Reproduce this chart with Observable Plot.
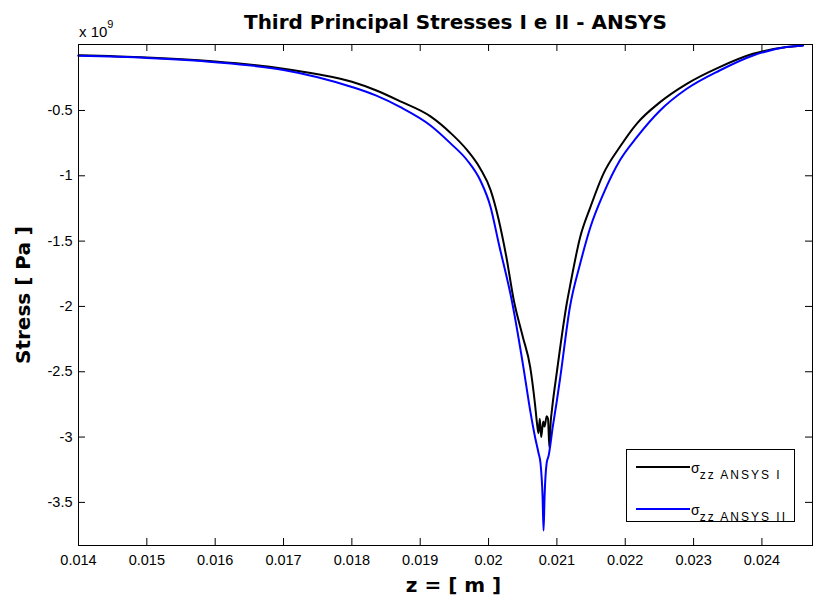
<!DOCTYPE html>
<html><head><meta charset="utf-8">
<script src="https://cdn.jsdelivr.net/npm/d3@7"></script>
<script src="https://cdn.jsdelivr.net/npm/@observablehq/plot@0.6"></script>
<style>
html,body{margin:0;padding:0;background:#fff;}
#chart svg{display:block;}
</style></head><body><div id="chart"></div>
<script>
// Values in units of 1e9 Pa (axis multiplier "x 10^9")
const zI = [0.0140, 0.0150, 0.0160, 0.0170, 0.0175, 0.0180, 0.01835, 0.01871, 0.01915, 0.01944, 0.01969, 0.01988, 0.02003, 0.02015, 0.02026, 0.02037, 0.02050, 0.02061, 0.02068, 0.02071, 0.02073, 0.02075, 0.02077, 0.02080, 0.02082, 0.02085, 0.02087, 0.02089, 0.02091, 0.02093, 0.02100, 0.02115, 0.02119, 0.02134, 0.02149, 0.02168, 0.02192, 0.02217, 0.02251, 0.02290, 0.02338, 0.02387, 0.02436, 0.02460];
const sI = [-0.078, -0.095, -0.125, -0.18, -0.222, -0.28, -0.345, -0.43, -0.545, -0.67, -0.806, -0.946, -1.11, -1.34, -1.62, -1.955, -2.23, -2.466, -2.75, -2.90, -2.97, -2.86, -3.00, -2.88, -2.92, -2.84, -2.86, -3.08, -2.88, -2.78, -2.50, -1.96, -1.85, -1.47, -1.24, -0.985, -0.78, -0.60, -0.436, -0.296, -0.168, -0.066, -0.015, -0.002];
const zII = [0.0140, 0.0150, 0.0160, 0.0170, 0.0175, 0.0180, 0.01835, 0.01871, 0.01915, 0.01944, 0.01969, 0.01988, 0.02003, 0.02015, 0.02034, 0.02051, 0.02061, 0.02068, 0.02073, 0.02076, 0.02079, 0.020805, 0.02082, 0.02085, 0.02088, 0.02094, 0.02100, 0.02105, 0.02119, 0.02134, 0.02149, 0.02168, 0.02192, 0.02217, 0.02251, 0.02290, 0.02338, 0.02387, 0.02436, 0.02460];
const sII = [-0.082, -0.098, -0.13, -0.19, -0.245, -0.32, -0.385, -0.475, -0.615, -0.75, -0.883, -1.036, -1.24, -1.52, -1.955, -2.466, -2.80, -3.00, -3.12, -3.20, -3.45, -3.716, -3.45, -3.20, -3.14, -2.92, -2.72, -2.54, -2.006, -1.674, -1.394, -1.138, -0.883, -0.704, -0.50, -0.334, -0.194, -0.079, -0.015, -0.002];
const xTicks = [0.014, 0.015, 0.016, 0.017, 0.018, 0.019, 0.02, 0.021, 0.022, 0.023, 0.024];
const yTicks = [-3.5, -3, -2.5, -2, -1.5, -1, -0.5];
const seriesNames = ["ANSYS I", "ANSYS II"];
const seriesColors = ["#000000", "#0000ff"];
const xDomain = [0.014, 0.02474];
const yDomain = [-3.83, 0.005];
const titleText = "Third Principal Stresses I e II - ANSYS";
const xLabel = "z = [ m ]";
const yLabel = "Stress [ Pa ]";

const rows = [
  ...zI.map((z, i) => ({z, s: sI[i], series: seriesNames[0]})),
  ...zII.map((z, i) => ({z, s: sII[i], series: seriesNames[1]}))
];

const W = 817, H = 599;
const mL = 78, mR = 5, mT = 44, mB = 54;
const pw = W - mL - mR, ph = H - mT - mB;
const tk = 7;
const FONT = "Liberation Sans, Arial, Helvetica, sans-serif";
const BOLD = "DejaVu Sans, Verdana, sans-serif";

const chart = Plot.plot({
  width: W, height: H,
  marginLeft: mL, marginRight: mR, marginTop: mT, marginBottom: mB,
  style: {fontFamily: FONT, fontSize: "14px", color: "#000", background: "#fff"},
  x: {domain: xDomain, ticks: xTicks},
  y: {domain: yDomain, ticks: yTicks},
  color: {domain: seriesNames, range: seriesColors},
  marks: [
    Plot.line(rows, {x: "z", y: "s", z: "series", stroke: "series", strokeWidth: 2, curve: "monotone-x"}),
    Plot.frame({stroke: "#000", strokeWidth: 1}),
    // inward ticks on all four sides
    Plot.ruleX(xTicks, {x: d => d, insetTop: ph - tk, stroke: "#000"}),
    Plot.ruleX(xTicks, {x: d => d, insetBottom: ph - tk, stroke: "#000"}),
    Plot.ruleY(yTicks, {y: d => d, insetRight: pw - tk, stroke: "#000"}),
    Plot.ruleY(yTicks, {y: d => d, insetLeft: pw - tk, stroke: "#000"}),
    Plot.axisX(xTicks, {tickSize: 0, tickPadding: 9, tickFormat: d => String(d), label: null, fontSize: 14.5}),
    Plot.axisY(yTicks, {tickSize: 0, tickPadding: 6, tickFormat: d => String(d), label: null, fontSize: 14.5}),
    Plot.text([titleText], {frameAnchor: "top", dy: -30, dx: 10, fontWeight: "bold", fontSize: 20, fontFamily: BOLD}),
    Plot.text([xLabel], {frameAnchor: "bottom", dy: 46, dx: 8, fontWeight: "bold", fontSize: 20, fontFamily: BOLD}),
    Plot.text([yLabel], {frameAnchor: "left", dx: -55, rotate: -90, textAnchor: "middle", fontWeight: "bold", fontSize: 20, fontFamily: BOLD})
  ]
});
document.getElementById("chart").appendChild(chart);

// multiplier label and legend (SVG text with super/subscripts)
const svg = d3.select(chart);
const mult = svg.append("text").attr("x", mL + 1).attr("y", mT - 7).attr("text-anchor", "start")
  .attr("font-family", FONT).attr("font-size", 15).attr("fill", "#000");
mult.append("tspan").text("x 10");
mult.append("tspan").attr("font-size", 11).attr("dy", -9).text("9");

const lg = svg.append("g").attr("transform", `translate(${W - mR - 186},${mT + ph - 96})`);
lg.append("rect").attr("x", 0.5).attr("y", 0.5).attr("width", 168).attr("height", 72)
  .attr("fill", "#fff").attr("stroke", "#000");
seriesNames.forEach((name, i) => {
  const cy = 18 + i * 42;
  lg.append("line").attr("x1", 10).attr("x2", 64).attr("y1", cy).attr("y2", cy)
    .attr("stroke", seriesColors[i]).attr("stroke-width", 2);
  const t = lg.append("text").attr("x", 65).attr("y", cy + 6).attr("text-anchor", "start")
    .attr("font-family", FONT).attr("font-size", 14).attr("fill", "#000");
  t.append("tspan").text("\u03c3");
  t.append("tspan").attr("font-size", 12).attr("dy", 6).attr("letter-spacing", 2).text("zz " + name);
});
</script>
</body></html>
